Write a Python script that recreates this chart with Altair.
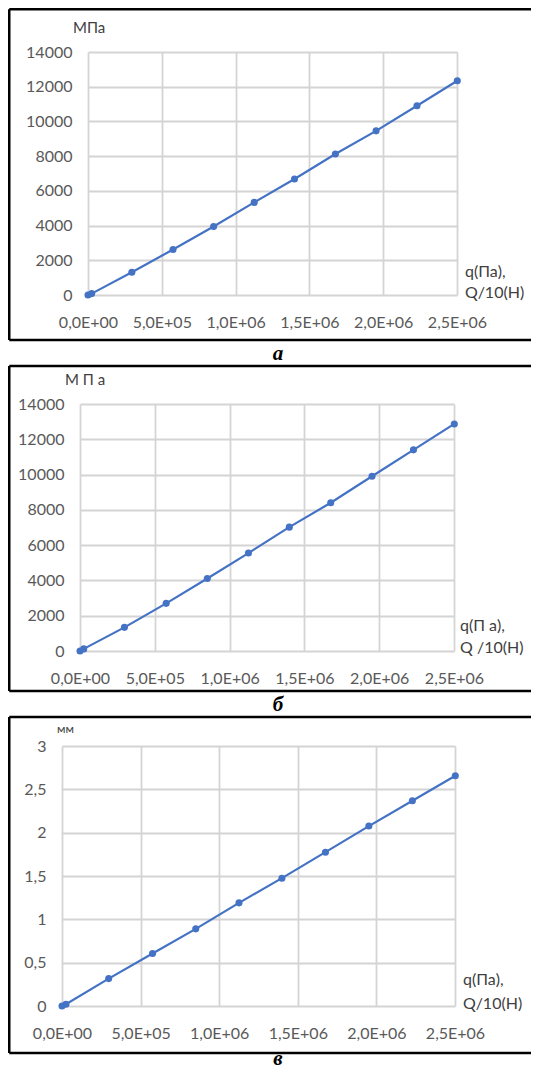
import altair as alt
import pandas as pd

# ---- data ----
x_vals = [0, 25000, 297000, 576000, 851000, 1126000, 1399000, 1676000, 1952000, 2229000, 2502000]
y_a = [0, 80, 1310, 2620, 3950, 5335, 6683, 8127, 9456, 10900, 12345]
y_b = [0, 120, 1340, 2700, 4110, 5550, 7020, 8400, 9905, 11400, 12870]
y_c = [0, 0.02, 0.316, 0.605, 0.890, 1.190, 1.475, 1.775, 2.076, 2.368, 2.657]

x_ticks = [0, 500000, 1000000, 1500000, 2000000, 2500000]
x_tick_labels = ["0,0E+00", "5,0E+05", "1,0E+06", "1,5E+06", "2,0E+06", "2,5E+06"]
y_ticks_ab = [0, 2000, 4000, 6000, 8000, 10000, 12000, 14000]
y_tick_labels_ab = ["0", "2000", "4000", "6000", "8000", "10000", "12000", "14000"]
y_ticks_c = [0, 0.5, 1, 1.5, 2, 2.5, 3]
y_tick_labels_c = ["0", "0,5", "1", "1,5", "2", "2,5", "3"]

BLUE = "#4472C4"
GRID = "#D4D4D4"
LABEL = "#595959"
FONT = "Lato"
VIEW_W = 393


def label_expr(vals, labels):
    expr = "''"
    for v, l in reversed(list(zip(vals, labels))):
        expr = f"datum.value == {v} ? '{l}' : ({expr})"
    return expr


def one(txt=""):
    return alt.Chart(pd.DataFrame({"t": [txt]}))


def panel(ys, ydom, yticks, ylabels, x0, w, h, unit, unit_pos, unit_size,
          xl, xl_pos, caption, cap_pos, frame, cell):
    df = pd.DataFrame({"x": x_vals, "y": ys})
    xenc = alt.X("x:Q", scale=alt.Scale(domain=[0, 2500000], nice=False, range=[x0, x0 + w]),
                 axis=alt.Axis(values=x_ticks, tickCount=len(x_ticks),
                               labelExpr=label_expr(x_ticks, x_tick_labels),
                               title=None, grid=True, gridColor=GRID, gridWidth=1.8,
                               domain=False, ticks=False, tickSize=0, labelPadding=19,
                               labelFlush=False, labelOverlap=False,
                               labelFont=FONT, labelFontSize=16, labelColor=LABEL))
    yenc = alt.Y("y:Q", scale=alt.Scale(domain=ydom, nice=False),
                 axis=alt.Axis(values=yticks, tickCount=len(yticks),
                               labelExpr=label_expr(yticks, ylabels),
                               title=None, grid=True, gridColor=GRID, gridWidth=1.8,
                               domain=False, ticks=False, tickSize=0, labelPadding=16,
                               labelFlush=False, labelOverlap=False, offset=-x0,
                               labelFont=FONT, labelFontSize=16, labelColor=LABEL))
    base = alt.Chart(df)
    line = base.mark_line(color=BLUE, strokeWidth=2.2).encode(x=xenc, y=yenc)
    pts = base.mark_circle(color=BLUE, size=50, opacity=1).encode(x="x:Q", y="y:Q")

    fl, fr, ft, fb = frame
    layers = [line, pts]
    # frame (top, left, bottom edges)
    layers.append(one().mark_rule(color="black", strokeWidth=2.5).encode(
        x=alt.value(fl), x2=alt.value(fr), y=alt.value(ft), y2=alt.value(ft)))
    layers.append(one().mark_rule(color="black", strokeWidth=2.5).encode(
        x=alt.value(fl), x2=alt.value(fr), y=alt.value(fb), y2=alt.value(fb)))
    layers.append(one().mark_rule(color="black", strokeWidth=2.5).encode(
        x=alt.value(fl), x2=alt.value(fl), y=alt.value(ft), y2=alt.value(fb)))
    # invisible cell extent
    layers.append(one().mark_rule(color="white", strokeWidth=2.5, opacity=0).encode(
        x=alt.value(fl), x2=alt.value(fl), y=alt.value(cell[0]), y2=alt.value(cell[1])))
    # unit label
    layers.append(one(unit).mark_text(align="left", baseline="middle", font=FONT,
                                      fontSize=unit_size, color="#404040").encode(
        x=alt.value(unit_pos[0]), y=alt.value(unit_pos[1]), text="t:N"))
    # x axis name (two lines)
    for txt, yy in zip(xl, xl_pos[1:]):
        layers.append(one(txt).mark_text(align="left", baseline="middle", font=FONT,
                                         fontSize=16, color="#404040").encode(
            x=alt.value(xl_pos[0]), y=alt.value(yy), text="t:N"))
    # caption
    layers.append(one(caption).mark_text(align="center", baseline="alphabetic",
                                         font="Liberation Serif", fontSize=21,
                                         fontWeight="bold", fontStyle="italic",
                                         color="black").encode(
        x=alt.value(cap_pos[0]), y=alt.value(cap_pos[1]), text="t:N"))
    return alt.layer(*layers).properties(width=VIEW_W, height=h)


# view origin is at page x = 62 for all panels
pa = panel(y_a, [0, 14000], y_ticks_ab, y_tick_labels_ab, 26, 369, 243,
           "МПа", (11, -24), 15, ["q(Па),", "Q/10(Н)"], (403, 220, 241),
           "а", (216, 308), (-52.75, 469, -42.75, 288), (-42.75, 309.75))
pb = panel(y_b, [0, 14000], y_ticks_ab, y_tick_labels_ab, 18, 374, 247,
           "М П а", (3, -24), 15, ["q(П а),", "Q /10(Н)"], (398, 222, 244),
           "б", (216, 307), (-52.75, 469, -38, 287), (-38.75, 310.25))
pc = panel(y_c, [0, 3], y_ticks_c, y_tick_labels_c, 0, 393, 260,
           "мм", (-5, -17), 12, ["q(Па),", "Q/10(Н)"], (401, 234, 258),
           "в", (216, 319), (-52.75, 469, -29, 307), (-29, 320.75))

chart = alt.vconcat(pa, pb, pc, spacing=0).properties(padding=0).configure_view(
    strokeWidth=0)

chart.save("out.html", embed_options={"renderer": "svg", "actions": False})
